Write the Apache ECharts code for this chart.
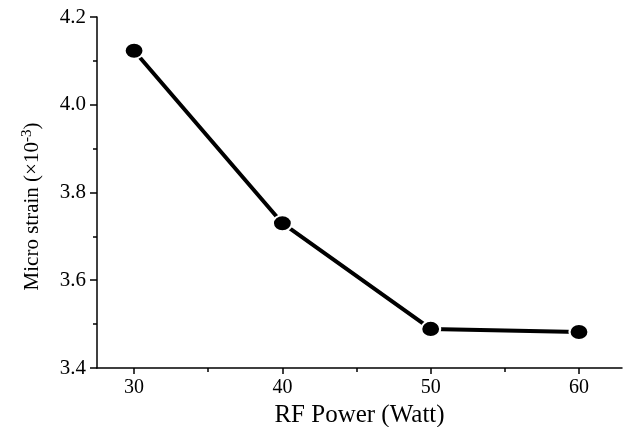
<!DOCTYPE html>
<html>
<head>
<meta charset="utf-8">
<script src="https://cdn.jsdelivr.net/npm/echarts@6/dist/echarts.min.js"></script>
<style>
  html, body { margin: 0; padding: 0; background: #fff; }
  #chart { width: 628px; height: 427px; }
</style>
</head>
<body>
<div id="chart"></div>
<script>
// RF power (Watt) vs micro strain (x10^-3)
const power = [30, 40, 50, 60];
const strain = [4.123, 3.730, 3.489, 3.482];
const xTicks = [30, 40, 50, 60];
const xMinor = [35, 45, 55];
const yTicks = [3.4, 3.6, 3.8, 4.0, 4.2];
const yMinor = [3.5, 3.7, 3.9, 4.1];

const font = 'Liberation Serif';
const points = power.map((p, i) => [p, strain[i]]);

const chart = echarts.init(document.getElementById('chart'));

const option = {
  backgroundColor: '#fff',
  animation: false,
  grid: { left: 97, right: 6, top: 17, bottom: 59, outerBoundsMode: 'none', containLabel: false },
  xAxis: [{
    type: 'value',
    position: 'bottom',
    min: 27.5,
    max: 62.9,
    name: 'RF Power (Watt)',
    nameLocation: 'middle',
    nameGap: 30,
    nameTextStyle: { fontFamily: font, fontSize: 25, color: '#000' },
    axisLine: { show: true, lineStyle: { color: '#000', width: 1.5 } },
    axisTick: { show: true, length: 6, customValues: xTicks, lineStyle: { color: '#000', width: 1.5 } },
    axisLabel: { customValues: xTicks, margin: 10, fontFamily: font, fontSize: 20, color: '#000' },
    splitLine: { show: false }
  }, {
    type: 'value',
    position: 'bottom',
    min: 27.5,
    max: 62.9,
    axisLine: { show: false },
    axisTick: { show: true, length: 4, customValues: xMinor, lineStyle: { color: '#000', width: 1.5 } },
    axisLabel: { show: false },
    splitLine: { show: false }
  }],
  yAxis: [{
    type: 'value',
    position: 'left',
    min: 3.4,
    max: 4.2,
    name: '{n|Micro strain (×10}{s|-3}{n|)}',
    nameLocation: 'middle',
    nameGap: 52,
    nameTextStyle: {
      fontFamily: font,
      fontSize: 21,
      color: '#000',
      padding: [0, 28, 0, 0],
      rich: {
        n: { fontFamily: font, fontSize: 21, color: '#000' },
        s: { fontFamily: font, fontSize: 15, color: '#000', padding: [0, 0, 10, 0] }
      }
    },
    axisLine: { show: true, lineStyle: { color: '#000', width: 1.5 } },
    axisTick: { show: true, length: 7, customValues: yTicks, lineStyle: { color: '#000', width: 1.5 } },
    axisLabel: {
      customValues: yTicks, margin: 11, fontFamily: font, fontSize: 21, color: '#000',
      formatter: v => v.toFixed(1)
    },
    splitLine: { show: false }
  }, {
    type: 'value',
    position: 'left',
    min: 3.4,
    max: 4.2,
    axisLine: { show: false },
    axisTick: { show: true, length: 4, customValues: yMinor, lineStyle: { color: '#000', width: 1.5 } },
    axisLabel: { show: false },
    splitLine: { show: false }
  }],
  series: [{
    type: 'line',
    data: points,
    symbol: 'circle',
    symbolSize: [19, 16],
    lineStyle: { color: '#000', width: 4 },
    itemStyle: { color: '#000', borderColor: '#fff', borderWidth: 2 }
  }]
};

chart.setOption(option);
</script>
</body>
</html>
